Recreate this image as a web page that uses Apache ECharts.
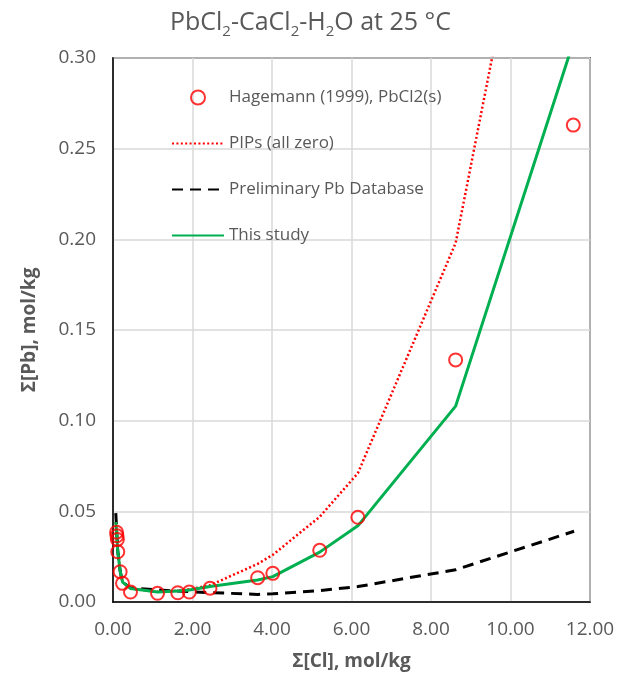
<!DOCTYPE html>
<html>
<head>
<meta charset="utf-8">
<title>PbCl2-CaCl2-H2O at 25 °C</title>
<script src="https://cdn.jsdelivr.net/npm/echarts@6/dist/echarts.min.js"></script>
<style>
  html, body { margin: 0; padding: 0; background: #ffffff; }
  #chart { width: 621px; height: 678px; }
</style>
</head>
<body>
<div id="chart"></div>
<script>
// Solubility of PbCl2(s) in CaCl2 solutions at 25 °C
const hagemannCl = [0.09, 0.10, 0.11, 0.12, 0.18, 0.24, 0.44, 1.12, 1.63, 1.92, 2.44, 3.64, 4.02, 5.20, 6.16, 8.62, 11.58];
const hagemannPb = [0.0385, 0.0365, 0.0345, 0.0277, 0.0167, 0.0103, 0.0055, 0.0048, 0.0051, 0.0055, 0.0076, 0.0134, 0.0158, 0.0285, 0.0467, 0.1335, 0.263];

// Model curves evaluated at common total-chloride molalities
const modelCl = [0.07, 0.10, 0.12, 0.18, 0.24, 0.44, 1.12, 1.63, 1.92, 2.44, 3.64, 4.02, 5.20, 6.16, 8.62, 11.60];
const pipsPb = [0.044, 0.036, 0.028, 0.017, 0.011, 0.0075, 0.0056, 0.0062, 0.0070, 0.0092, 0.021, 0.026, 0.047, 0.071, 0.198, 0.53];
const prelimPb = [0.049, 0.036, 0.028, 0.017, 0.011, 0.0078, 0.0066, 0.0060, 0.0057, 0.0052, 0.0042, 0.0045, 0.0063, 0.0085, 0.0178, 0.039];
const thisStudyPb = [0.044, 0.036, 0.028, 0.017, 0.011, 0.0075, 0.0055, 0.0060, 0.0066, 0.0085, 0.0121, 0.0140, 0.0275, 0.042, 0.108, 0.310];

const xTicks = [0, 2, 4, 6, 8, 10, 12];
const yTicks = [0, 0.05, 0.10, 0.15, 0.20, 0.25, 0.30];

const seriesNames = ['Hagemann (1999), PbCl2(s)', 'PIPs (all zero)', 'Preliminary Pb Database', 'This study'];

const pair = (xs, ys) => xs.map((x, i) => [x, ys[i]]);

const FONT = '"Open Sans", "Noto Sans", sans-serif';
const GREY = '#595959';

const chart = echarts.init(document.getElementById('chart'), null, { renderer: 'canvas' });

chart.setOption({
  backgroundColor: '#ffffff',
  animation: false,
  title: {
    text: '{m|PbCl}{s|2}{m|-CaCl}{s|2}{m|-H}{s|2}{m|O at 25 °C}',
    left: 'center',
    top: 2,
    textStyle: {
      rich: {
        m: { fontFamily: FONT, fontSize: 25, fontWeight: 'normal', color: GREY, lineHeight: 32 },
        s: { fontFamily: FONT, fontSize: 15, fontWeight: 'normal', color: GREY, verticalAlign: 'bottom', lineHeight: 16 }
      }
    }
  },
  grid: {
    left: 113,
    right: 31,
    top: 58,
    bottom: 76,
    show: true,
    borderColor: '#000000',
    borderWidth: 1.5
  },
  legend: {
    orient: 'vertical',
    left: 166,
    top: 84,
    itemWidth: 52,
    itemHeight: 14,
    itemGap: 29,
    data: [
      { name: seriesNames[0] },
      { name: seriesNames[1], itemStyle: { opacity: 0 } },
      { name: seriesNames[2], itemStyle: { opacity: 0 } },
      { name: seriesNames[3], itemStyle: { opacity: 0 } }
    ],
    textStyle: { fontFamily: FONT, fontSize: 17, color: GREY }
  },
  xAxis: {
    type: 'value',
    min: xTicks[0],
    max: xTicks[xTicks.length - 1],
    interval: xTicks[1] - xTicks[0],
    name: 'Σ[Cl], mol/kg',
    nameLocation: 'middle',
    nameGap: 50,
    nameTextStyle: { fontFamily: FONT, fontSize: 19, fontWeight: 'bold', color: GREY },
    axisLine: { show: true, lineStyle: { color: '#000000', width: 1.5 } },
    axisTick: { show: false },
    axisLabel: {
      margin: 18,
      fontFamily: FONT, fontSize: 19, color: GREY,
      formatter: v => v.toFixed(2)
    },
    splitLine: { show: true, lineStyle: { color: '#d9d9d9', width: 1.5 } }
  },
  yAxis: {
    type: 'value',
    min: yTicks[0],
    max: yTicks[yTicks.length - 1],
    interval: 0.05,
    name: 'Σ[Pb], mol/kg',
    nameLocation: 'middle',
    nameGap: 74,
    nameTextStyle: { fontFamily: FONT, fontSize: 19, fontWeight: 'bold', color: GREY },
    axisLine: { show: true, lineStyle: { color: '#000000', width: 1.5 } },
    axisTick: { show: false },
    axisLabel: {
      margin: 17,
      fontFamily: FONT, fontSize: 19, color: GREY,
      formatter: v => v.toFixed(2)
    },
    splitLine: { show: true, lineStyle: { color: '#d9d9d9', width: 1.5 } }
  },
  series: [
    {
      name: seriesNames[0],
      type: 'scatter',
      data: pair(hagemannCl, hagemannPb),
      symbol: 'circle',
      symbolSize: 13,
      z: 5,
      itemStyle: { color: 'rgba(255,255,255,0)', borderColor: '#ff0000', borderWidth: 2 }
    },
    {
      name: seriesNames[1],
      type: 'line',
      data: pair(modelCl, pipsPb),
      symbol: 'none',
      clip: true,
      z: 3,
      itemStyle: { color: '#ff0000' },
      lineStyle: { color: '#ff0000', width: 2.5, type: [2, 2.4] }
    },
    {
      name: seriesNames[2],
      type: 'line',
      data: pair(modelCl, prelimPb),
      symbol: 'none',
      clip: true,
      z: 3,
      itemStyle: { color: '#000000' },
      lineStyle: { color: '#000000', width: 3, type: [11, 7] }
    },
    {
      name: seriesNames[3],
      type: 'line',
      data: pair(modelCl, thisStudyPb),
      symbol: 'none',
      clip: true,
      z: 4,
      itemStyle: { color: '#00b050' },
      lineStyle: { color: '#00b050', width: 3 }
    }
  ]
});
</script>
</body>
</html>
